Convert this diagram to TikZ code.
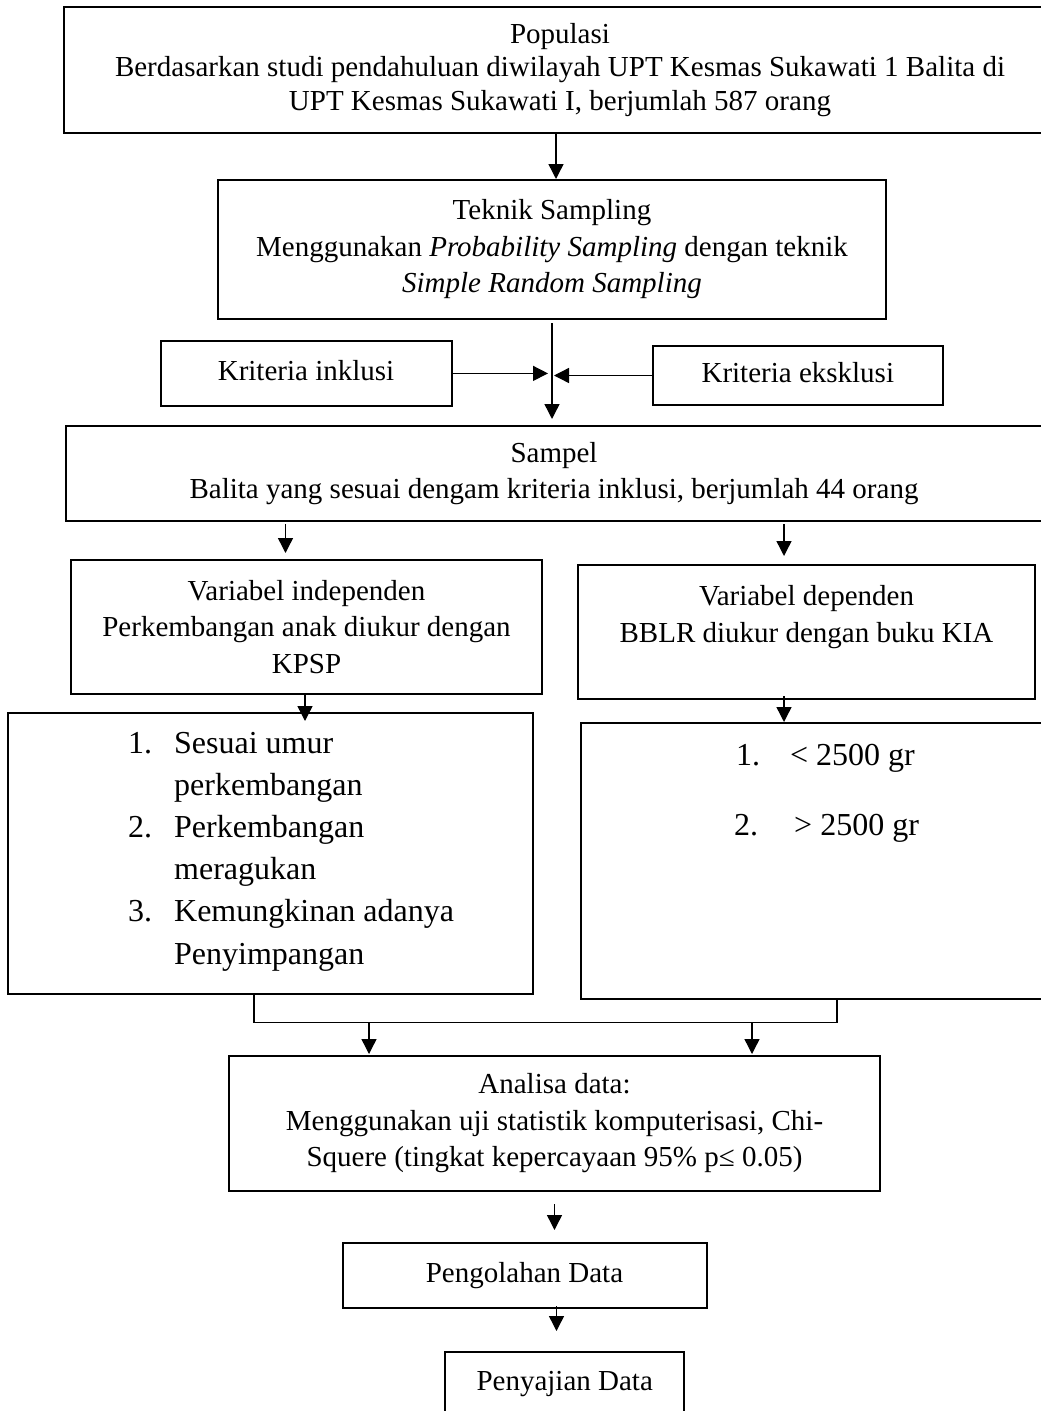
\documentclass[tikz,border=0pt]{standalone}
\usepackage{fontspec}
\setmainfont{Liberation Serif}
\usetikzlibrary{arrows.meta}
\begin{document}
\begin{tikzpicture}[x=1pt,y=-1pt,
  box/.style={draw, line width=2pt, inner sep=0pt, align=center},
  oneline/.style={text height=19.8pt, text depth=6.3pt},
  arr/.style={line width=1.4pt, -{Triangle[length=15pt,width=15pt]}},
  joinline/.style={line width=1.1pt},
  body/.style={font=\fontsize{29}{36.5}\selectfont},
  bodytight/.style={font=\fontsize{29}{33.5}\selectfont},
  listtxt/.style={font=\fontsize{32}{42.2}\selectfont, inner sep=0pt, anchor=base west}
]
\fill[white] (0,0) rectangle (1041,1411);
\useasboundingbox (0,0) rectangle (1041,1411);

% boxes
\node[box, bodytight, minimum width=992pt, minimum height=126pt] (pop) at (560,70)
  {Populasi\\Berdasarkan studi pendahuluan diwilayah UPT Kesmas Sukawati 1 Balita di\\UPT Kesmas Sukawati I, berjumlah 587 orang};
\node[box, body, minimum width=668.5pt, minimum height=139pt] (tek) at (552,249.5)
  {Teknik Sampling\\Menggunakan \textit{Probability Sampling} dengan teknik\\\textit{Simple Random Sampling}};
\node[box, body, oneline, minimum width=291pt, minimum height=65pt] (ink) at (306,373.4) {Kriteria inklusi};
\node[box, body, oneline, minimum width=290pt, minimum height=59pt] (eks) at (797.8,375.5) {Kriteria eksklusi};
\node[box, body, minimum width=976pt, minimum height=95pt] (sam) at (554,473.5)
  {Sampel\\Balita yang sesuai dengam kriteria inklusi, berjumlah 44 orang};
\node[box, body, minimum width=471pt, minimum height=134pt] (vi) at (306.5,627)
  {Variabel independen\\Perkembangan anak diukur dengan\\KPSP};
\node[box, body, minimum width=457pt, minimum height=134pt] (vd) at (806.5,632)
  {Variabel dependen\\BBLR diukur dengan buku KIA\\\mbox{}};
\node[box, minimum width=525pt, minimum height=281pt] (ll) at (270.5,853.5) {};
\node[box, minimum width=479pt, minimum height=276pt] (rl) at (820.5,861) {};
\node[box, body, minimum width=651pt, minimum height=135pt] (an) at (554.5,1123.5)
  {Analisa data:\\Menggunakan uji statistik komputerisasi, Chi-\\Squere (tingkat kepercayaan 95\% p≤ 0.05)};
\node[box, body, oneline, minimum width=364pt, minimum height=65pt] (peng) at (524.5,1275.5) {Pengolahan Data};
\node[box, body, oneline, minimum width=239.5pt, minimum height=64pt] (peny) at (564.7,1384) {Penyajian Data};

% list texts
\node[listtxt] (ltxt) at (128,753) {\begin{tabular}[t]{@{}l@{}l@{}}
\makebox[46pt][l]{1.} & Sesuai umur\\
 & perkembangan\\
\makebox[46pt][l]{2.} & Perkembangan\\
 & meragukan\\
\makebox[46pt][l]{3.} & Kemungkinan adanya\\
 & Penyimpangan
\end{tabular}};
\node[listtxt] (r1) at (736,765) {\makebox[54pt][l]{1.}< 2500 gr};
\node[listtxt] (r2) at (734,835) {\makebox[60pt][l]{2.}> 2500 gr};

% helper coordinates
\coordinate (xt) at (556,0);
\coordinate (xl) at (285.5,0);
\coordinate (xr) at (784,0);
\coordinate (xl2) at (305,0);
\coordinate (bl) at (254,1022.5);
\coordinate (br) at (837,1022.5);
\coordinate (xa1) at (369,0);
\coordinate (xa2) at (752,0);
\coordinate (xp) at (556.5,0);

% connectors
\draw[arr] (pop.south -| xt) -- (tek.north -| xt);
\draw[arr, shorten <=3pt, shorten >=6pt] (tek.south) -- (tek.south |- sam.north);
\draw[arr, shorten >=4pt] (ink.east) -- (ink.east -| tek.south);
\draw[arr, shorten >=2pt] (eks.west) -- (eks.west -| tek.south);
\draw[arr, shorten <=2pt, shorten >=6pt] (sam.south -| xl) -- (vi.north -| xl);
\draw[arr, shorten <=2pt, shorten >=8pt] (sam.south -| xr) -- (vd.north -| xr);
\draw[arr, shorten >=-9pt] (vi.south -| xl2) -- (ll.north -| xl2);
\draw[arr, shorten <=-4pt] (vd.south -| xr) -- (rl.north -| xr);
\draw[joinline] (ll.south -| bl) -- (bl) -- (br) -- (rl.south -| br);
\draw[arr, shorten >=1pt] (bl -| xa1) -- (an.north -| xa1);
\draw[arr, shorten >=1pt] (bl -| xa2) -- (an.north -| xa2);
\draw[arr, shorten <=12pt, shorten >=12pt] (an.south) -- (an.south |- peng.north);
\draw[arr, shorten <=-3pt, shorten >=20pt] (peng.south -| xp) -- (peny.north -| xp);
\end{tikzpicture}
\end{document}
